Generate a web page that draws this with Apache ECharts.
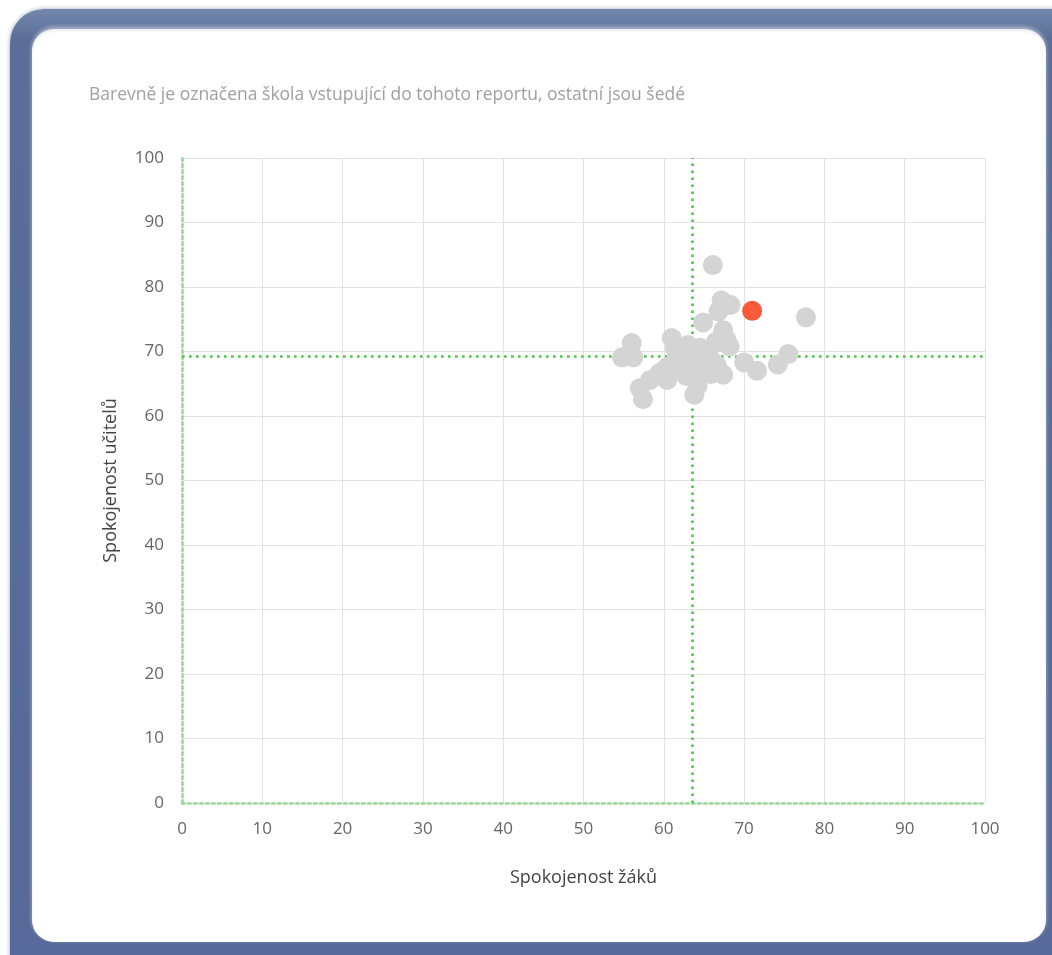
<!DOCTYPE html>
<html>
<head>
<meta charset="utf-8">
<script src="https://cdn.jsdelivr.net/npm/echarts@6/dist/echarts.min.js"></script>
<style>
  html, body { margin: 0; padding: 0; width: 1052px; height: 955px; overflow: hidden; background: #ffffff; }
  #frame {
    position: absolute; left: 10px; top: 9px; width: 1080px; height: 990px;
    box-sizing: border-box; border-radius: 34px;
    background: linear-gradient(180deg, #7488ad 0%, #5a6e98 3%, #56699a 100%);
    box-shadow: 0 0 4px rgba(60,80,120,0.5);
  }
  #inner {
    position: absolute; left: 32px; top: 29px; width: 1014px; height: 913px;
    background: #ffffff; border-radius: 22px;
    box-shadow: 0 -2px 4px rgba(255,255,255,0.5), inset 0 2px 3px rgba(0,0,0,0.08);
  }
  #chart { position: absolute; left: 0; top: 0; width: 1052px; height: 955px; }
</style>
</head>
<body>
<div id="frame"></div>
<div id="inner"></div>
<div id="chart"></div>
<script>
const titleText = 'Barevně je označena škola vstupující do tohoto reportu, ostatní jsou šedé';
const xAxisName = 'Spokojenost žáků';
const yAxisName = 'Spokojenost učitelů';
const axisTicks = [0, 10, 20, 30, 40, 50, 60, 70, 80, 90, 100];

// other schools (grey)
const otherSchools = [
  [66.1, 83.4], [67.2, 77.9], [68.3, 77.2], [66.8, 76.2], [64.9, 74.5],
  [67.4, 73.3], [67.8, 71.8], [68.2, 70.8], [66.5, 71.5], [62.3, 70.0],
  [64.5, 70.6], [61.0, 72.1], [61.4, 70.5], [63.6, 70.5], [64.9, 69.1],
  [62.0, 69.1], [66.0, 68.5], [66.6, 67.9], [67.4, 66.4], [70.0, 68.3],
  [71.6, 67.0], [74.2, 68.0], [75.5, 69.6], [77.7, 75.3], [56.0, 71.3],
  [54.8, 69.1], [56.2, 69.1], [57.0, 64.3], [57.4, 62.6], [58.3, 65.6],
  [59.5, 66.7], [60.4, 67.6], [60.4, 65.6], [63.0, 68.0], [64.2, 64.7],
  [63.8, 63.3], [61.5, 68.5], [62.5, 67.0], [64.0, 67.5], [65.5, 70.0],
  [63.0, 71.0], [65.8, 66.5], [62.8, 66.2]
];
// school in this report (coloured)
const thisSchool = [[71.0, 76.3]];
// averages (green dotted lines)
const avgStudents = 63.6;
const avgTeachers = 69.3;

const chart = echarts.init(document.getElementById('chart'), null, { renderer: 'canvas' });
const fontFamily = "'Open Sans', 'Noto Sans', sans-serif";
const greenDots = { color: '#45c845', width: 2.6, type: [2.6, 4.4] };

function axis(name, gap, rotate) {
  return {
    type: 'value', min: 0, max: 100, interval: 10,
    name: name, nameLocation: 'middle', nameGap: gap, nameRotate: rotate,
    nameTextStyle: { color: '#444', fontSize: 18, fontFamily: fontFamily },
    axisLine: { show: true, onZero: false, lineStyle: { color: '#98d898', width: 2.6, type: [2.6, 3.4] } },
    axisTick: { show: false },
    axisLabel: { color: '#666', fontSize: 17, fontFamily: fontFamily, margin: 18 },
    splitLine: { show: true, lineStyle: { color: '#e2e2e2', width: 1 } }
  };
}

chart.setOption({
  animation: false,
  backgroundColor: 'transparent',
  title: {
    text: titleText, left: 84, top: 81,
    textStyle: { color: '#a0a0a0', fontSize: 17.5, fontWeight: 'normal', fontFamily: fontFamily }
  },
  grid: { left: 182, right: 67, top: 158, bottom: 152, containLabel: false },
  xAxis: axis(xAxisName, 66, 0),
  yAxis: axis(yAxisName, 62, 90),
  series: [
    {
      type: 'scatter', data: [], z: 1,
      markLine: {
        z: 1, silent: true, symbol: ['none', 'none'], animation: false,
        label: { show: false }, lineStyle: greenDots,
        data: [{ xAxis: avgStudents }, { yAxis: avgTeachers }]
      }
    },
    {
      type: 'scatter', data: otherSchools, symbolSize: 20, z: 3,
      itemStyle: { color: '#d4d4d4', opacity: 1 }
    },
    {
      type: 'scatter', data: thisSchool, symbolSize: 20, z: 4,
      itemStyle: { color: '#f85a3a', opacity: 1 }
    }
  ]
});
</script>
</body>
</html>
